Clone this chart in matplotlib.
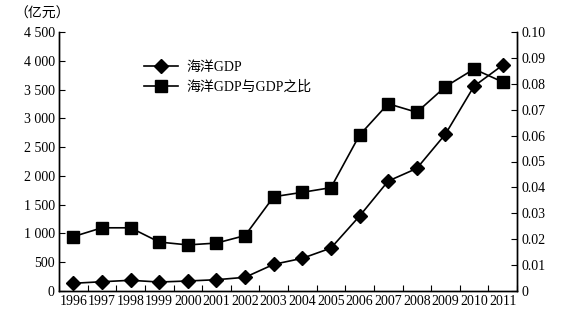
import matplotlib
matplotlib.use("Agg")
import matplotlib.pyplot as plt
from matplotlib.ticker import FixedLocator, FuncFormatter

plt.rcParams['font.family'] = ['Liberation Serif', 'Noto Sans CJK SC']

years = ['1996', '1997', '1998', '1999', '2000', '2001', '2002', '2003',
         '2004', '2005', '2006', '2007', '2008', '2009', '2010', '2011']
marine_gdp = [134, 161, 186, 156, 174, 196, 238, 463, 568, 746,
              1302, 1910, 2130, 2726, 3559, 3924]
ratio = [0.0210, 0.0244, 0.0244, 0.0189, 0.0178, 0.0185, 0.0214, 0.0364,
         0.0381, 0.0399, 0.0602, 0.0723, 0.0690, 0.0789, 0.0857, 0.0807]
left_ticks = [0, 500, 1000, 1500, 2000, 2500, 3000, 3500, 4000, 4500]
right_ticks = [0, 0.01, 0.02, 0.03, 0.04, 0.05, 0.06, 0.07, 0.08, 0.09, 0.10]

fig = plt.figure(figsize=(5.8, 3.13), dpi=100)
ax = fig.add_axes([59/580, 1-291/313, (517-59)/580, (291-32)/313])
ax2 = ax.twinx()

x = list(range(len(years)))
l1, = ax.plot(x, marine_gdp, color='black', lw=1.2, marker='D', ms=7,
              label='海洋GDP')
l2, = ax2.plot(x, ratio, color='black', lw=1.2, marker='s', ms=8,
               label='海洋GDP与GDP之比')

ax.set_xlim(-0.5, len(years) - 0.5)
ax.set_ylim(0, 4500)
ax2.set_ylim(0, 0.10)

ax.xaxis.set_major_locator(FixedLocator([i - 0.5 for i in range(len(years) + 1)]))
ax.xaxis.set_minor_locator(FixedLocator(x))
ax.set_xticklabels([])
ax.xaxis.set_minor_formatter(FuncFormatter(lambda v, p: years[int(round(v))]))
ax.tick_params(axis='x', which='major', direction='in', length=4, width=0.8)
ax.tick_params(axis='x', which='minor', length=0, labelsize=10, pad=3)

ax.set_yticks(left_ticks)
ax.yaxis.set_major_formatter(FuncFormatter(lambda v, p: f'{int(v):,}'.replace(',', ' ')))
ax.tick_params(axis='y', direction='in', length=4, width=0.8, labelsize=10, pad=3)

ax2.set_yticks(right_ticks)
ax2.yaxis.set_major_formatter(FuncFormatter(lambda v, p: '0' if v == 0 else f'{v:.2f}'))
ax2.tick_params(axis='y', direction='in', length=4, width=0.8, labelsize=10, pad=3)

for a in (ax, ax2):
    a.spines['top'].set_visible(False)
    for s in ('left', 'right', 'bottom'):
        a.spines[s].set_linewidth(1.0)

fig.text(14/580, 1-14/313, '（亿元）', fontsize=10, va='center', ha='left')

ax.legend([l1, l2], ['海洋GDP', '海洋GDP与GDP之比'], loc='upper left',
          bbox_to_anchor=((138-59)/458, (291-55)/259), frameon=False,
          fontsize=10, handlelength=2.5, handletextpad=0.6, labelspacing=0.5,
          borderaxespad=0)

fig.savefig('out.png', dpi=100)
